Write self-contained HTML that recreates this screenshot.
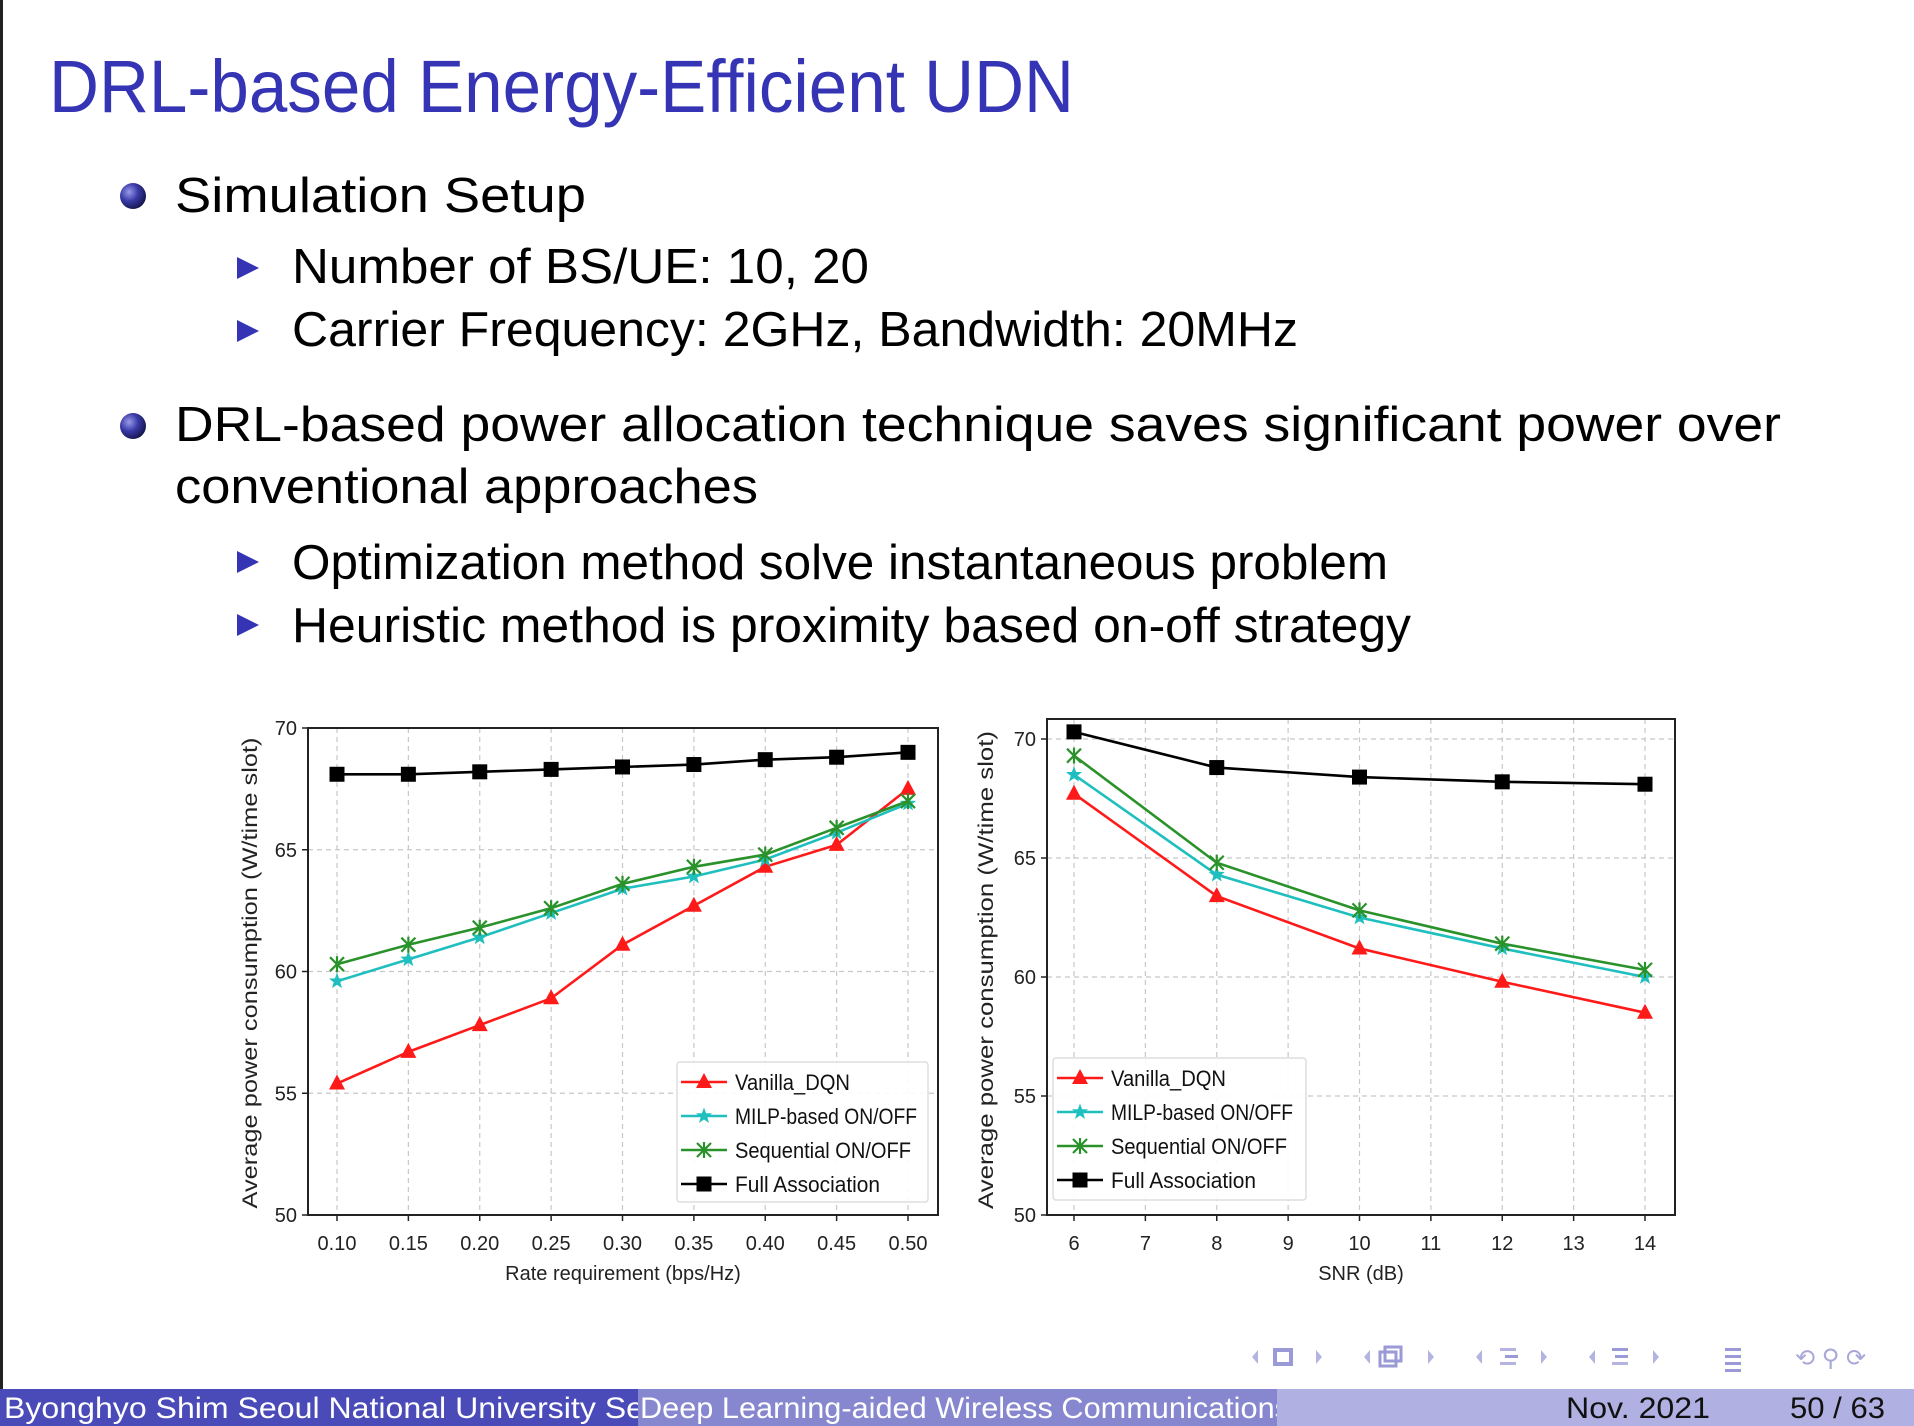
<!DOCTYPE html>
<html><head><meta charset="utf-8"><style>
html,body{margin:0;padding:0;background:#fff;}
svg{display:block;}
</style></head><body>
<svg id="slide" width="1914" height="1426" viewBox="0 0 1914 1426" xmlns="http://www.w3.org/2000/svg" font-family="Liberation Sans, DejaVu Sans, sans-serif">
<rect x="0" y="0" width="1914" height="1426" fill="#fff"/>
<rect x="0" y="0" width="3" height="1390" fill="#222"/>
<text x="49" y="112" font-size="74" fill="#3434b4" textLength="1025" lengthAdjust="spacingAndGlyphs">DRL-based Energy-Efficient UDN</text>
<defs><radialGradient id="ball" cx="0.35" cy="0.35" r="0.7"><stop offset="0" stop-color="#9a9ae8"/><stop offset="0.5" stop-color="#3a3aa8"/><stop offset="1" stop-color="#15154a"/></radialGradient></defs>
<g font-size="49" fill="#000">
<circle cx="133" cy="196" r="13" fill="url(#ball)"/>
<text x="175" y="212" textLength="411" lengthAdjust="spacingAndGlyphs">Simulation Setup</text>
<polygon points="237,257 237,279 259,268" fill="#3434b4"/>
<text x="292" y="283" textLength="577" lengthAdjust="spacingAndGlyphs">Number of BS/UE: 10, 20</text>
<polygon points="237,320 237,342 259,331" fill="#3434b4"/>
<text x="292" y="346" textLength="1006" lengthAdjust="spacingAndGlyphs">Carrier Frequency: 2GHz, Bandwidth: 20MHz</text>
<circle cx="133" cy="426" r="13" fill="url(#ball)"/>
<text x="175" y="441" textLength="1606" lengthAdjust="spacingAndGlyphs">DRL-based power allocation technique saves significant power over</text>
<text x="175" y="503" textLength="583" lengthAdjust="spacingAndGlyphs">conventional approaches</text>
<polygon points="237,551 237,573 259,562" fill="#3434b4"/>
<text x="292" y="579" textLength="1096" lengthAdjust="spacingAndGlyphs">Optimization method solve instantaneous problem</text>
<polygon points="237,614 237,636 259,625" fill="#3434b4"/>
<text x="292" y="642" textLength="1119" lengthAdjust="spacingAndGlyphs">Heuristic method is proximity based on-off strategy</text>
</g>
<g id="chartL"></g>
<g id="chartR"></g>
<g fill="#b4b4e0">
<polygon points="1252,1357 1258,1350 1258,1364"/><rect x="1275" y="1350" width="16" height="14" fill="none" stroke="#9a9ad6" stroke-width="4"/><polygon points="1316,1350 1322,1357 1316,1364"/>
<polygon points="1364,1357 1370,1350 1370,1364"/><rect x="1380" y="1352" width="16" height="14" fill="none" stroke="#9a9ad6" stroke-width="3"/><rect x="1385" y="1347" width="16" height="14" fill="none" stroke="#9a9ad6" stroke-width="3"/><polygon points="1428,1350 1434,1357 1428,1364"/>
<polygon points="1476,1357 1482,1350 1482,1364"/><rect x="1500" y="1348" width="16" height="3"/><rect x="1505" y="1355" width="13" height="3" fill="#9a9ad6"/><rect x="1500" y="1362" width="16" height="3"/><polygon points="1541,1350 1547,1357 1541,1364"/>
<polygon points="1589,1357 1595,1350 1595,1364"/><rect x="1612" y="1348" width="16" height="3" fill="#9a9ad6"/><rect x="1615" y="1355" width="13" height="3" fill="#9a9ad6"/><rect x="1612" y="1362" width="16" height="3"/><polygon points="1653,1350 1659,1357 1653,1364"/>
<rect x="1725" y="1348" width="16" height="3" fill="#9a9ad6"/><rect x="1725" y="1355" width="16" height="3" fill="#9a9ad6"/><rect x="1725" y="1362" width="16" height="3" fill="#9a9ad6"/><rect x="1725" y="1369" width="16" height="3" fill="#9a9ad6"/>
<text x="1795" y="1366" font-size="24" fill="#a8a8d8">⟲ ⚲ ⟳</text>
</g>
<g font-size="30">
<rect x="0" y="1389" width="638" height="37" fill="#4a4ab8"/>
<rect x="638" y="1389" width="639" height="37" fill="#8787d0"/>
<rect x="1277" y="1389" width="637" height="37" fill="#b0b0e2"/>
<svg x="0" y="1389" width="638" height="37"><text x="4" y="29" fill="#fff" textLength="640" lengthAdjust="spacingAndGlyphs">Byonghyo Shim  Seoul National University  Se</text></svg>
<svg x="638" y="1389" width="639" height="37"><text x="2" y="29" fill="#fff" textLength="650" lengthAdjust="spacingAndGlyphs">Deep Learning-aided Wireless Communications</text></svg>
<text x="1566" y="1418" fill="#111" textLength="144" lengthAdjust="spacingAndGlyphs">Nov. 2021</text>
<text x="1790" y="1418" fill="#111" textLength="95" lengthAdjust="spacingAndGlyphs">50 / 63</text>
</g>
</svg>
<script>
const rateCats = [0.10,0.15,0.20,0.25,0.30,0.35,0.40,0.45,0.50];
const rateVanilla = [55.4,56.7,57.8,58.9,61.1,62.7,64.3,65.2,67.5];
const rateMilp = [59.6,60.5,61.4,62.4,63.4,63.9,64.6,65.7,66.9];
const rateSeq = [60.3,61.1,61.8,62.6,63.6,64.3,64.8,65.9,67.0];
const rateFull = [68.1,68.1,68.2,68.3,68.4,68.5,68.7,68.8,69.0];
const rateTicks = ["0.10","0.15","0.20","0.25","0.30","0.35","0.40","0.45","0.50"];
const snrCats = [6,8,10,12,14];
const snrVanilla = [67.7,63.4,61.2,59.8,58.5];
const snrMilp = [68.5,64.3,62.5,61.2,60.0];
const snrSeq = [69.3,64.8,62.8,61.4,60.3];
const snrFull = [70.3,68.8,68.4,68.2,68.1];
const snrTicks = [6,7,8,9,10,11,12,13,14];
const yTicks = [50,55,60,65,70];
const seriesNames = ["Vanilla_DQN","MILP-based ON/OFF","Sequential ON/OFF","Full Association"];
const legendWidths = [115,182,176,145];

const NS="http://www.w3.org/2000/svg";
function mk(p,tag,attrs,txt){const e=document.createElementNS(NS,tag);for(const k in attrs)e.setAttribute(k,attrs[k]);if(txt!==undefined)e.textContent=txt;p.appendChild(e);return e;}
const colors=["#ff1a1a","#1fbfbf","#2a922a","#000"];
function marker(g,type,x,y,c){
  if(type===0)return mk(g,'polygon',{points:`${x},${y-9} ${x-8},${y+6} ${x+8},${y+6}`,fill:c});
  if(type===1){let pts=[];for(let i=0;i<10;i++){const r=i%2?3.5:8.5,a=-Math.PI/2+i*Math.PI/5;pts.push((x+r*Math.cos(a)).toFixed(1)+','+(y+r*Math.sin(a)).toFixed(1));}return mk(g,'polygon',{points:pts.join(' '),fill:c});}
  if(type===2){const gg=mk(g,'g',{stroke:c,'stroke-width':2.2});mk(gg,'line',{x1:x-7,y1:y-7,x2:x+7,y2:y+7});mk(gg,'line',{x1:x-7,y1:y+7,x2:x+7,y2:y-7});mk(gg,'line',{x1:x,y1:y-8,x2:x,y2:y+8});return gg;}
  return mk(g,'rect',{x:x-7.5,y:y-7.5,width:15,height:15,fill:c});
}
function chart(gid,cfg){
  const g=document.getElementById(gid);
  const xs=v=>cfg.px0+(v-cfg.xmin)/(cfg.xmax-cfg.xmin)*(cfg.px1-cfg.px0);
  const ys=v=>cfg.py50+(v-50)/20*(cfg.py70-cfg.py50);
  const grid=mk(g,'g',{stroke:'#c8c8c8','stroke-width':1.2,'stroke-dasharray':'5,4'});
  
  
  cfg.xt.forEach(t=>mk(grid,'line',{x1:xs(+t),y1:cfg.top,x2:xs(+t),y2:cfg.bottom}));
  yTicks.forEach(t=>mk(grid,'line',{x1:cfg.left,y1:ys(t),x2:cfg.right,y2:ys(t)}));
  const ax=mk(g,'g',{'font-size':20,fill:'#222'});
  
  
  cfg.xt.forEach(t=>{mk(ax,'line',{x1:xs(+t),y1:cfg.bottom,x2:xs(+t),y2:cfg.bottom+6,stroke:'#222','stroke-width':1.5});
    const tl=mk(ax,'text',{x:xs(+t),y:cfg.bottom+35,'text-anchor':'middle'},t);
    
    });
  yTicks.forEach(t=>{mk(ax,'line',{x1:cfg.left-6,y1:ys(t),x2:cfg.left,y2:ys(t),stroke:'#222','stroke-width':1.5});
    const tl=mk(ax,'text',{x:cfg.left-11,y:ys(t)+7,'text-anchor':'end'},t);
    
    });
  const xt=mk(ax,'text',{x:(cfg.left+cfg.right)/2,y:cfg.bottom+65,'text-anchor':'middle'},cfg.xlabel);
  
  
  const yt=mk(ax,'text',{x:0,y:0,'text-anchor':'middle','font-size':21,textLength:cfg.ylen,lengthAdjust:'spacingAndGlyphs',transform:`translate(${cfg.ytx},${cfg.ytc}) rotate(-90)`},'Average power consumption (W/time slot)');
  
  
  cfg.series.forEach((s,i)=>{
    const sg=mk(g,'g',{});
    
    
    mk(sg,'polyline',{points:s.map((v,j)=>xs(cfg.cats[j])+','+ys(v)).join(' '),fill:'none',stroke:colors[i],'stroke-width':2.6});
    s.forEach((v,j)=>{const m=marker(sg,i,xs(cfg.cats[j]),ys(v),colors[i]);
      
      });
  });
  mk(g,'rect',{x:cfg.left,y:cfg.top,width:cfg.right-cfg.left,height:cfg.bottom-cfg.top,fill:'none',stroke:'#222','stroke-width':2});
  const L=cfg.leg;
  const lg=mk(g,'g',{'font-size':22,fill:'#111'});
  
  
  mk(lg,'rect',{x:L.x,y:L.y,width:L.w,height:L.h,fill:'#fff','fill-opacity':0.9,stroke:'#ddd','stroke-width':1.5,rx:3});
  seriesNames.forEach((n,i)=>{
    const yy=L.y+20+i*34;
    const e=mk(lg,'g',{});
    
    
    mk(e,'line',{x1:L.x+4,y1:yy,x2:L.x+50,y2:yy,stroke:colors[i],'stroke-width':2.6});
    marker(e,i,L.x+27,yy,colors[i]);
    mk(e,'text',{x:L.x+58,y:yy+8,textLength:legendWidths[i],lengthAdjust:'spacingAndGlyphs'},n);
  });
}
chart('chartL',{left:308,right:938,top:728,bottom:1215,px0:337,px1:908,xmin:0.1,xmax:0.5,py70:728,py50:1215,
  cats:rateCats,xt:rateTicks,series:[rateVanilla,rateMilp,rateSeq,rateFull],xlabel:'Rate requirement (bps/Hz)',ytx:257,ytc:973,ylen:471,
  leg:{x:677,y:1062,w:251,h:140}});
chart('chartR',{left:1047,right:1675,top:719,bottom:1215,px0:1074,px1:1645,xmin:6,xmax:14,py70:739,py50:1215,
  cats:snrCats,xt:snrTicks.map(String),series:[snrVanilla,snrMilp,snrSeq,snrFull],xlabel:'SNR (dB)',ytx:993,ytc:970,ylen:478,
  leg:{x:1053,y:1058,w:253,h:142}});
</script>
</body></html>
